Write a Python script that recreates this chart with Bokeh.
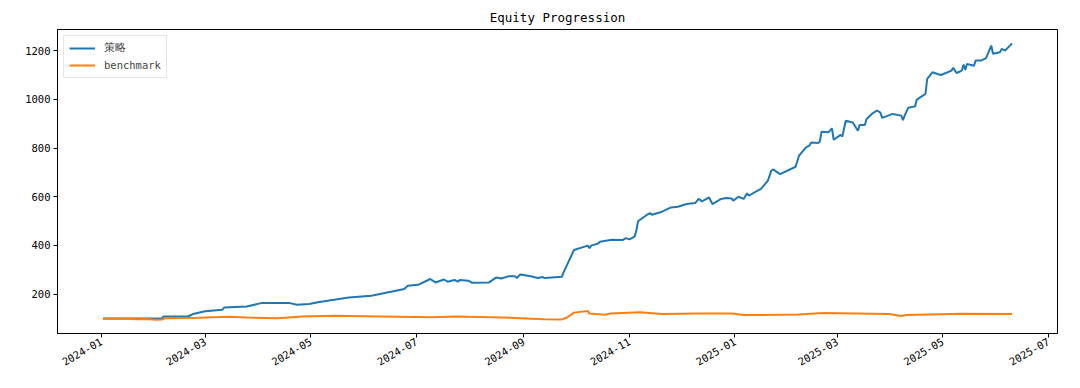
import pandas as pd
from bokeh.plotting import figure
from bokeh.models import Range1d, FixedTicker, DatetimeTickFormatter, Legend, LegendItem
from bokeh.embed import file_html
from bokeh.resources import INLINE

strategy_dates = ["2024-01-02","2024-01-15","2024-02-05","2024-02-06","2024-02-20","2024-02-23","2024-03-01","2024-03-11","2024-03-12","2024-03-25","2024-04-03","2024-04-19","2024-04-23","2024-04-30","2024-05-06","2024-05-23","2024-06-05","2024-06-17","2024-06-24","2024-06-26","2024-07-02","2024-07-09","2024-07-12","2024-07-17","2024-07-19","2024-07-23","2024-07-25","2024-07-26","2024-07-31","2024-08-02","2024-08-12","2024-08-16","2024-08-19","2024-08-23","2024-08-27","2024-08-28","2024-08-30","2024-09-05","2024-09-09","2024-09-12","2024-09-13","2024-09-23","2024-09-24","2024-09-30","2024-10-08","2024-10-09","2024-10-10","2024-10-14","2024-10-15","2024-10-22","2024-10-28","2024-10-30","2024-11-01","2024-11-04","2024-11-05","2024-11-06","2024-11-11","2024-11-13","2024-11-14","2024-11-19","2024-11-25","2024-11-29","2024-12-04","2024-12-09","2024-12-11","2024-12-13","2024-12-17","2024-12-19","2024-12-24","2024-12-27","2024-12-30","2024-12-31","2025-01-03","2025-01-06","2025-01-08","2025-01-09","2025-01-13","2025-01-16","2025-01-20","2025-01-22","2025-01-23","2025-01-27","2025-02-05","2025-02-07","2025-02-11","2025-02-13","2025-02-14","2025-02-18","2025-02-19","2025-02-20","2025-02-24","2025-02-26","2025-02-27","2025-03-03","2025-03-04","2025-03-06","2025-03-10","2025-03-13","2025-03-14","2025-03-17","2025-03-18","2025-03-21","2025-03-24","2025-03-26","2025-03-27","2025-04-02","2025-04-07","2025-04-08","2025-04-09","2025-04-11","2025-04-15","2025-04-16","2025-04-21","2025-04-22","2025-04-25","2025-04-28","2025-04-30","2025-05-06","2025-05-07","2025-05-09","2025-05-12","2025-05-13","2025-05-14","2025-05-15","2025-05-19","2025-05-20","2025-05-23","2025-05-26","2025-05-29","2025-05-30","2025-06-03","2025-06-04","2025-06-06","2025-06-10"]
strategy_values = [100,100,100,108,108,118,130,136,145,149,164,163,156,159,168,186,193,211,221,234,238,262,248,260,251,258,251,258,255,247,248,268,264,273,273,266,281,273,266,270,266,271,289,381,399,389,399,408,415,423,422,430,425,436,460,499,525,533,526,536,556,559,570,574,591,581,597,570,591,595,593,584,600,591,614,604,621,632,666,707,712,693,723,769,803,810,823,821,827,867,865,881,834,854,847,912,905,871,895,895,919,940,954,945,924,940,933,915,933,965,971,999,1022,1084,1111,1104,1100,1118,1129,1108,1118,1143,1121,1145,1138,1159,1159,1169,1221,1187,1193,1207,1200,1230]

benchmark_dates = ["2024-01-02","2024-01-15","2024-01-22","2024-01-26","2024-02-02","2024-02-05","2024-02-07","2024-02-26","2024-03-15","2024-03-25","2024-04-12","2024-04-26","2024-05-15","2024-06-10","2024-07-10","2024-07-24","2024-08-20","2024-09-13","2024-09-23","2024-09-26","2024-09-30","2024-10-08","2024-10-09","2024-10-16","2024-10-18","2024-10-21","2024-11-07","2024-11-20","2024-12-10","2024-12-30","2025-01-06","2025-02-07","2025-02-21","2025-03-31","2025-04-07","2025-04-10","2025-05-12","2025-06-10"]
benchmark_values = [99,99,97,98,95,96,101,103,107,104,101,108,111,108,105,108,104,97,96,104,124,131,120,116,115,120,126,118,120,120,114,116,122,118,110,114,119,118]

x_tick_labels = ["2024-01","2024-03","2024-05","2024-07","2024-09","2024-11","2025-01","2025-03","2025-05","2025-07"]
y_ticks = [200, 400, 600, 800, 1000, 1200]

series_names = ["策略", "benchmark"]
colors = ["#1f77b4", "#ff7f0e"]

sx = pd.to_datetime(strategy_dates)
bx = pd.to_datetime(benchmark_dates)

xmin = min(sx.min(), bx.min())
xmax = max(sx.max(), bx.max())
xpad = (xmax - xmin) * 0.05
ymin = min(min(strategy_values), min(benchmark_values))
ymax = max(max(strategy_values), max(benchmark_values))
ypad = (ymax - ymin) * 0.05

FONT = "DejaVu Sans Mono"

p = figure(width=1072, height=380, output_backend="svg", toolbar_location=None,
           x_axis_type="datetime",
           x_range=Range1d(xmin - xpad, xmax + xpad),
           y_range=Range1d(ymin - ypad, ymax + ypad),
           min_border_left=57, min_border_right=15, min_border_top=29, min_border_bottom=47,
           title="Equity Progression")
p.title.align = "center"
p.title.text_font = FONT
p.title.text_font_size = "12.5px"
p.title.text_font_style = "normal"
p.title.text_color = "black"

r1 = p.line(sx, strategy_values, line_color=colors[0], line_width=2)
r2 = p.line(bx, benchmark_values, line_color=colors[1], line_width=2)

p.grid.visible = False
p.outline_line_color = "black"
p.outline_line_width = 1
p.outline_line_alpha = 1

x_tick_pos = [pd.Timestamp(t + "-01").value / 1e6 for t in x_tick_labels]
p.xaxis.ticker = FixedTicker(ticks=x_tick_pos)
p.xaxis.formatter = DatetimeTickFormatter(months="%Y-%m", days="%Y-%m", years="%Y-%m")
p.xaxis.major_label_orientation = 0.5236
p.yaxis.ticker = FixedTicker(ticks=y_ticks)

for ax in [p.xaxis[0], p.yaxis[0]]:
    ax.axis_line_color = "black"
    ax.major_tick_line_color = "black"
    ax.major_tick_out = 4
    ax.major_tick_in = 0
    ax.minor_tick_line_color = None
    ax.major_label_text_font = FONT
    ax.major_label_text_font_size = "10.5px"
    ax.major_label_text_color = "black"
    ax.major_label_standoff = 3

legend = Legend(items=[LegendItem(label=series_names[0], renderers=[r1]),
                       LegendItem(label=series_names[1], renderers=[r2])],
                location="top_left")
legend.label_text_font = FONT
legend.label_text_font_size = "10.5px"
legend.glyph_height = 14
legend.label_height = 14
legend.glyph_width = 26
legend.spacing = 3
legend.padding = 5
legend.margin = 6
legend.border_line_color = "#cccccc"
legend.border_line_width = 1
legend.background_fill_alpha = 0.8
legend.label_standoff = 9
p.add_layout(legend)

open("out.html", "w").write(file_html(p, INLINE))
